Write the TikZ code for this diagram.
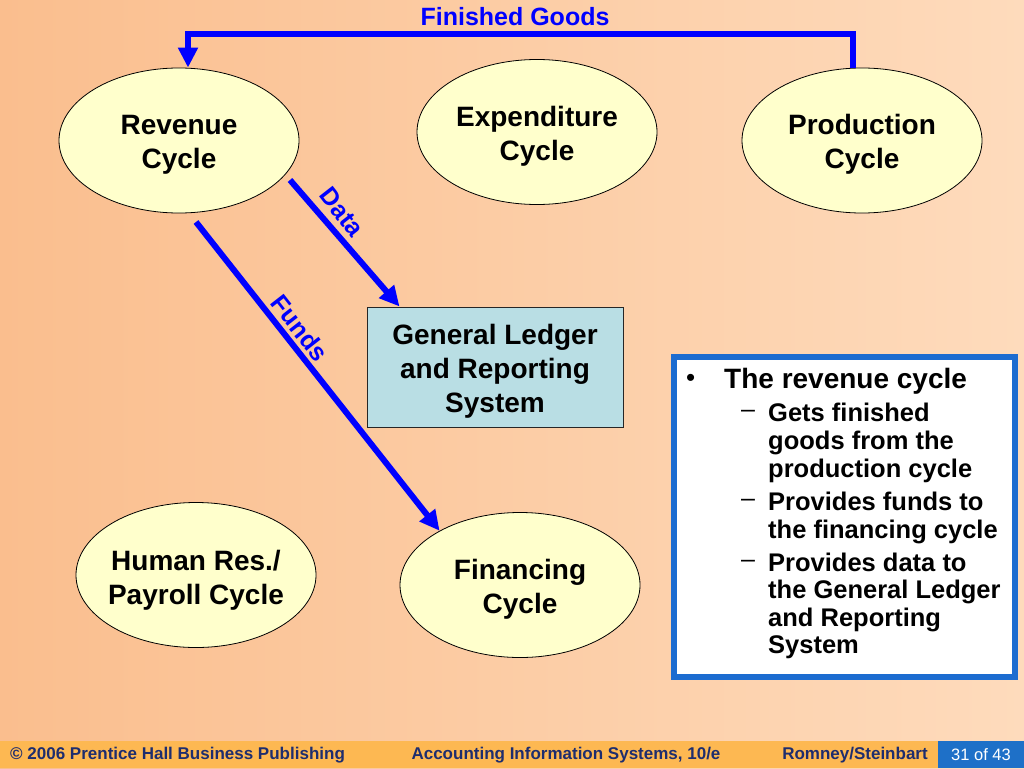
\documentclass[tikz,border=0pt]{standalone}
\usepackage{fontspec}
\setmainfont{Liberation Sans}
\usetikzlibrary{arrows.meta,shapes.geometric}
\definecolor{bgL}{RGB}{250,190,142}
\definecolor{bgR}{RGB}{254,219,188}
\definecolor{ellFill}{RGB}{255,255,204}
\definecolor{glFill}{RGB}{185,222,228}
\definecolor{arrowBlue}{RGB}{0,0,255}
\definecolor{boxBlue}{RGB}{28,108,208}
\definecolor{footOrange}{RGB}{253,184,82}
\definecolor{pageBlue}{RGB}{30,112,200}
\definecolor{footText}{RGB}{30,45,110}
\newcommand{\topstrut}{\rule{0pt}{28pt}}
\tikzset{
  cyc/.style={ellipse, draw=black, line width=0.8pt, fill=ellFill,
    minimum width=240pt, minimum height=145pt, inner xsep=-30pt, inner ysep=0pt,
    align=center, font=\fontsize{28}{34}\selectfont\bfseries},
  flow/.style={draw=arrowBlue, line width=6pt,
    -{Triangle[length=20pt,width=19pt]}},
  flowlabel/.style={text=arrowBlue, inner sep=0pt,
    font=\fontsize{25}{28}\selectfont\bfseries},
  bline/.style={anchor=base west, inner sep=0pt,
    font=\fontsize{25.5}{28}\selectfont\bfseries},
  bdash/.style={anchor=base west, inner sep=0pt,
    font=\fontsize{25}{28}\selectfont},
  foottxt/.style={text=footText, inner sep=0pt,
    font=\fontsize{17}{20}\selectfont\bfseries}
}
\begin{document}
\begin{tikzpicture}[x=1pt,y=-1pt]
\shade[left color=bgL,right color=bgR] (0,0) rectangle (1024,768);
\useasboundingbox (0,0) rectangle (1024,768);

% cycles
\node[cyc] (rev)  at (179,140.5) {\topstrut Revenue\\Cycle};
\node[cyc] (exp)  at (537,132)   {\topstrut Expenditure\\Cycle};
\node[cyc] (prod) at (862,140.5) {\topstrut Production\\Cycle};
\node[cyc] (hr)   at (196,575)   {\rule{0pt}{30pt}Human Res./\\Payroll Cycle};
\node[cyc] (fin)  at (520,585)   {\topstrut Financing\\Cycle};

% general ledger
\node[draw=black!85, line width=1pt, fill=glFill, minimum width=256pt,
  minimum height=120pt, inner sep=0pt, align=center,
  font=\fontsize{28}{34}\selectfont\bfseries] (gl) at (495,367)
  {\topstrut General Ledger\\and Reporting\\System};

% finished goods arrow
\draw[flow] ([xshift=-9pt]prod.north) -- ++(0,-34) -| ([xshift=9pt]rev.north);
\node[flowlabel] (fg) at (515,17) {Finished Goods};

% data arrow
\coordinate (d0) at (290,180);
\draw[flow] (d0) -- ([xshift=33pt]gl.north west);
\node[flowlabel, rotate=-52] (dl) at (342,212) {Data};

% funds arrow
\coordinate (f0) at (196,222);
\draw[flow] (f0) -- (fin.146.5);
\node[flowlabel, rotate=-52] (fl) at (300,328) {Funds};

% text box
\node[draw=boxBlue, line width=6pt, fill=white, minimum width=341pt,
  minimum height=320pt, inner sep=0pt] (tb) at (844.5,517) {};
\node[anchor=base west, inner sep=0pt, font=\fontsize{26}{28}\selectfont] (bul) at (686,386) {•};
\node[anchor=base west, inner sep=0pt, font=\fontsize{28}{30}\selectfont\bfseries] (hd) at (724,388) {The revenue cycle};
\node[bdash] (da) at (741,417) {–};
\node[bdash] (db) at (741,506) {–};
\node[bdash] (dc) at (741,567) {–};
\node[bline] (l1) at (768,421) {Gets finished};
\node[bline] (l2) at (768,449) {goods from the};
\node[bline] (l3) at (768,477) {production cycle};
\node[bline] (l4) at (768,510) {Provides funds to};
\node[bline] (l5) at (768,538) {the financing cycle};
\node[bline] (l6) at (768,571) {Provides data to};
\node[bline] (l7) at (768,598) {the General Ledger};
\node[bline] (l8) at (768,626) {and Reporting};
\node[bline] (l9) at (768,653) {System};

% footer
\node[fill=footOrange, minimum width=1024pt, minimum height=27pt, inner sep=0pt] (foot) at (512,754.5) {};
\node[fill=pageBlue, minimum width=86pt, minimum height=27pt, inner sep=0pt,
  text=white, font=\fontsize{16.5}{20}\selectfont] (pg) at (981,754.5) {31 of 43};
\node[foottxt, anchor=west] (c1) at (10,755) {© 2006 Prentice Hall Business Publishing};
\node[foottxt] (c2) at (566,755) {Accounting Information Systems, 10/e};
\node[foottxt] (c3) at (855,755) {Romney/Steinbart};
\end{tikzpicture}
\end{document}
